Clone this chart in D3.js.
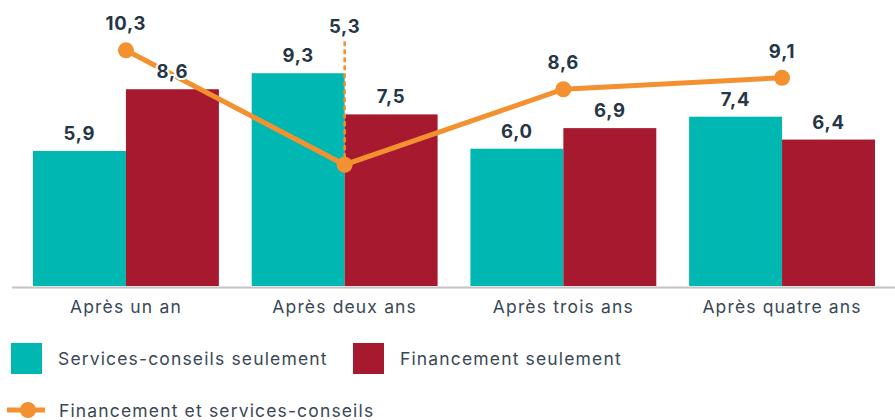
<!DOCTYPE html>
<html><head><meta charset="utf-8">
<script src="https://cdn.jsdelivr.net/npm/d3@7"></script>
<style>
html,body{margin:0;padding:0;background:#fff;}
text{font-family:Inter,"Open Sans",sans-serif;}
</style></head>
<body>
<svg id="c" width="895" height="420"></svg>
<script>
const categories = ["Après un an","Après deux ans","Après trois ans","Après quatre ans"];
const seriesNames = ["Services-conseils seulement","Financement seulement","Financement et services-conseils"];
const conseils = [5.9, 9.3, 6.0, 7.4];
const financement = [8.6, 7.5, 6.9, 6.4];
const combine = [10.3, 5.3, 8.6, 9.1];
const colors = ["#00B8B1","#A6192E","#F39130"];
const fmt = v => d3.format(".1f")(v).replace(".", ",");

const svg = d3.select("#c");
const base = 286;
const x = d3.scaleBand().domain(categories).range([33, 875]).paddingInner(0.15).paddingOuter(0);
const xs = d3.scaleBand().domain([0,1]).range([0, x.bandwidth()]);
const y = d3.scaleLinear().domain([0, 12.5]).range([base, 0]);
const textColor = "#263646";
const labelColor = "#3a4856";
const ls = 1.15;
const fs = 17.5;

// axis line
svg.append("line").attr("x1",12).attr("x2",895).attr("y1",base+1.5).attr("y2",base+1.5)
  .attr("stroke","#c4c4c4").attr("stroke-width",2);

const barData = [];
categories.forEach((c,i)=>{
  barData.push({c, s:0, v:conseils[i]});
  barData.push({c, s:1, v:financement[i]});
});
svg.append("g").selectAll("rect").data(barData).join("rect")
  .attr("x", d=>x(d.c)+xs(d.s)).attr("width", xs.bandwidth())
  .attr("y", d=>y(d.v)).attr("height", d=>base-y(d.v))
  .attr("fill", d=>colors[d.s]);

// x labels
svg.append("g").selectAll("text").data(categories).join("text")
  .attr("x", d=>x(d)+x.bandwidth()/2).attr("y", 313)
  .attr("text-anchor","middle").attr("font-size",fs).attr("letter-spacing",ls)
  .attr("fill",labelColor).text(d=>d);

// line
const lp = categories.map((c,i)=>({c, v:combine[i], px:x(c)+x.bandwidth()/2, py:y(combine[i]), i}));
svg.append("path").datum(lp)
  .attr("d", d3.line().x(d=>d.px).y(d=>d.py))
  .attr("fill","none").attr("stroke",colors[2]).attr("stroke-width",5);

lp.forEach(d=>{
  const maxBar = Math.max(conseils[d.i], financement[d.i]);
  d.ly = Math.min(d.py - 20, y(maxBar) - 40);
  d.leader = d.ly < d.py - 25;
});
svg.append("g").selectAll("line").data(lp.filter(d=>d.leader)).join("line")
  .attr("x1",d=>d.px).attr("x2",d=>d.px).attr("y1",d=>d.ly+8).attr("y2",d=>d.py)
  .attr("stroke",colors[2]).attr("stroke-width",2.5).attr("stroke-dasharray","5,3");

svg.append("g").selectAll("circle").data(lp).join("circle")
  .attr("cx",d=>d.px).attr("cy",d=>d.py).attr("r",8).attr("fill",colors[2]);

function valueLabel(sel){
  sel.attr("text-anchor","middle").attr("font-size",18.5).attr("font-weight",700)
    .attr("letter-spacing",0.8)
    .attr("fill",textColor).attr("stroke","#fff").attr("stroke-width",4)
    .attr("paint-order","stroke").attr("stroke-linejoin","round");
}
svg.append("g").selectAll("text").data(barData).join("text")
  .attr("x", d=>x(d.c)+xs(d.s)+xs.bandwidth()/2).attr("y", d=>y(d.v)-11)
  .call(valueLabel).text(d=>fmt(d.v));

svg.append("g").selectAll("text").data(lp).join("text")
  .attr("x", d=>d.px).attr("y", d=>d.ly)
  .call(valueLabel).text(d=>fmt(d.v));

// legend
const lg = svg.append("g").attr("font-size",fs).attr("letter-spacing",ls).attr("fill",labelColor);
lg.append("rect").attr("x",11).attr("y",343).attr("width",31).attr("height",31).attr("fill",colors[0]);
lg.append("text").attr("x",58).attr("y",365).text(seriesNames[0]);
lg.append("rect").attr("x",353).attr("y",343).attr("width",31).attr("height",31).attr("fill",colors[1]);
lg.append("text").attr("x",400).attr("y",365).text(seriesNames[1]);
lg.append("line").attr("x1",7).attr("x2",45).attr("y1",410).attr("y2",410).attr("stroke",colors[2]).attr("stroke-width",5);
lg.append("circle").attr("cx",28).attr("cy",410).attr("r",8).attr("fill",colors[2]);
lg.append("text").attr("x",59).attr("y",417).text(seriesNames[2]);
</script>
</body></html>
